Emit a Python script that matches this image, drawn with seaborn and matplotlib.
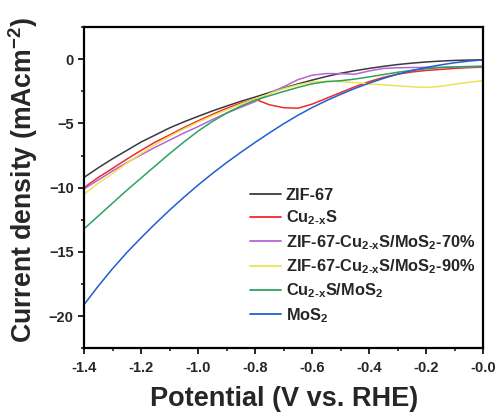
import numpy as np
import pandas as pd
import matplotlib
matplotlib.use("Agg")
import matplotlib.pyplot as plt
import seaborn as sns

potential = [-1.40, -1.35, -1.30, -1.25, -1.20, -1.15, -1.10, -1.05, -1.00, -0.95,
             -0.90, -0.85, -0.80, -0.75, -0.70, -0.65, -0.60, -0.55, -0.50, -0.45,
             -0.40, -0.35, -0.30, -0.25, -0.20, -0.15, -0.10, -0.05, 0.00]

zif67 = [-9.2, -8.45, -7.75, -7.1, -6.45, -5.9, -5.35, -4.88, -4.45, -4.03,
         -3.65, -3.28, -2.95, -2.6, -2.25, -1.93, -1.63, -1.35, -1.1, -0.9,
         -0.72, -0.56, -0.42, -0.31, -0.22, -0.15, -0.1, -0.07, -0.05]

cu2xs = [-10.0, -9.2, -8.5, -7.78, -7.1, -6.45, -5.9, -5.33, -4.8, -4.3,
         -3.83, -3.42, -3.12, -3.55, -3.78, -3.82, -3.5, -3.05, -2.6, -2.15,
         -1.75, -1.42, -1.17, -1.0, -0.88, -0.8, -0.72, -0.66, -0.62]

zif_70 = [-10.1, -9.4, -8.7, -8.05, -7.45, -6.85, -6.3, -5.75, -5.25, -4.7,
          -4.2, -3.75, -3.3, -2.65, -2.15, -1.6, -1.25, -1.12, -1.13, -1.17,
          -0.92, -0.72, -0.67, -0.65, -0.64, -0.63, -0.62, -0.6, -0.57]

zif_90 = [-10.5, -9.65, -8.9, -8.1, -7.35, -6.65, -6.0, -5.43, -4.9, -4.4,
          -3.95, -3.5, -3.1, -2.7, -2.3, -2.0, -1.78, -1.72, -1.75, -1.82,
          -1.92, -2.0, -2.08, -2.15, -2.2, -2.12, -1.95, -1.8, -1.68]

cu2xs_mos2 = [-13.2, -12.2, -11.2, -10.2, -9.25, -8.3, -7.35, -6.45, -5.6, -4.85,
              -4.2, -3.65, -3.2, -2.85, -2.52, -2.2, -1.92, -1.75, -1.68, -1.55,
              -1.38, -1.2, -1.02, -0.87, -0.75, -0.66, -0.6, -0.57, -0.55]

mos2 = [-19.1, -17.65, -16.3, -15.05, -13.9, -12.8, -11.75, -10.75, -9.8, -8.9,
        -8.05, -7.25, -6.48, -5.74, -5.03, -4.37, -3.77, -3.23, -2.74, -2.28,
        -1.87, -1.5, -1.17, -0.89, -0.65, -0.45, -0.28, -0.15, -0.05]

labels = ["ZIF-67",
          r"Cu$_{2\text{-}x}$S",
          r"ZIF-67-Cu$_{2\text{-}x}$S/MoS$_2$-70%",
          r"ZIF-67-Cu$_{2\text{-}x}$S/MoS$_2$-90%",
          r"Cu$_{2\text{-}x}$S/MoS$_2$",
          r"MoS$_2$"]
colors = ["#3a3a3a", "#f02a2a", "#b565d8", "#ece455", "#2ea35e", "#1f5fd2"]

series = [zif67, cu2xs, zif_70, zif_90, cu2xs_mos2, mos2]
frames = []
for lab, vals in zip(labels, series):
    frames.append(pd.DataFrame({"Potential": potential, "Current": vals, "Sample": lab}))
df = pd.concat(frames, ignore_index=True)

sns.set_style("ticks")
plt.rcParams["font.family"] = ["Liberation Sans", "DejaVu Sans"]
plt.rcParams["font.weight"] = "bold"
plt.rcParams["mathtext.fontset"] = "custom"
plt.rcParams["mathtext.rm"] = "Liberation Sans:bold"
plt.rcParams["mathtext.it"] = "Liberation Sans:bold"
plt.rcParams["mathtext.bf"] = "Liberation Sans:bold"
plt.rcParams["mathtext.default"] = "rm"

fig = plt.figure(figsize=(4.95, 4.16), dpi=100)
ax = fig.add_axes([0.170, 0.163, 0.806, 0.772])

sns.lineplot(data=df, x="Potential", y="Current", hue="Sample",
             palette=dict(zip(labels, colors)), hue_order=labels,
             linewidth=1.1, ax=ax, sort=False)

ax.set_xlim(-1.4, 0.0)
ax.set_ylim(-22.5, 2.5)
ax.set_xticks(np.arange(-1.4, 0.01, 0.2))
ax.set_xticklabels([f"{v:.1f}" for v in np.arange(-1.4, 0.01, 0.2)])
ax.set_xticks(np.arange(-1.3, 0.0, 0.2), minor=True)
ax.set_yticks([0, -5, -10, -15, -20])
ax.set_yticks([2.5, -2.5, -7.5, -12.5, -17.5, -22.5], minor=True)

for s in ax.spines.values():
    s.set_linewidth(1.6)
    s.set_color("black")
ax.tick_params(axis="both", which="major", direction="out", length=4.5, width=1.4,
               labelsize=10.5)
ax.tick_params(axis="x", which="major", pad=5)
ax.tick_params(axis="y", which="major", pad=3)
ax.tick_params(axis="both", which="minor", direction="out", length=2.5, width=1.2)
for t in ax.get_xticklabels() + ax.get_yticklabels():
    t.set_fontweight("bold")

ax.set_xlabel("Potential (V vs. RHE)", fontsize=19.5, fontweight="bold", labelpad=8)
ax.set_ylabel(r"Current density (mAcm$^{-2}$)", fontsize=19.2, fontweight="bold")
ax.yaxis.set_label_coords(-0.11, 0.525)

leg = ax.legend(loc="upper left", bbox_to_anchor=(0.40, 0.52), frameon=False,
                fontsize=11.8, handlelength=1.9, handletextpad=0.25, labelspacing=0.35,
                borderaxespad=0)
for t in leg.get_texts():
    t.set_fontweight("bold")
for l in leg.get_lines():
    l.set_linewidth(1.3)

fig.savefig("out.png", dpi=100)
